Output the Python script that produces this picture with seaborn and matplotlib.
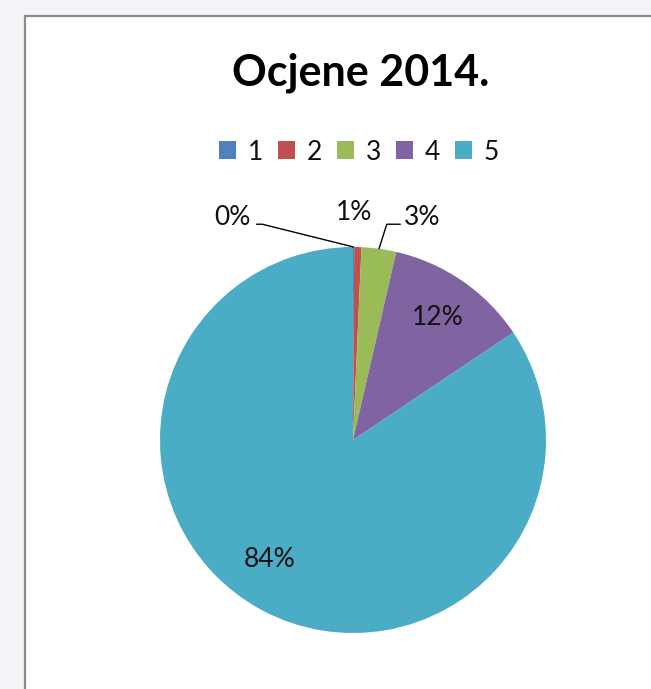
#!/usr/bin/env python3
"""
Pie chart of grades (Ocjene 2014.).
"""

import numpy as np
import matplotlib
matplotlib.use('Agg')
import matplotlib.pyplot as plt
import seaborn as sns
from matplotlib.patches import Rectangle

# Data
grades = ['1', '2', '3', '4', '5']
shares = [0.1, 0.6, 2.9, 12.0, 84.4]
pct_labels = ['0%', '1%', '3%', '12%', '84%']
colors = ['#4F81BD', '#C0504D', '#9BBB59', '#8064A2', '#4BACC6']
title = 'Ocjene 2014.'

W, H = 651, 689
DPI = 100

sns.set_theme(style='white')
plt.rcParams['font.family'] = ['Lato', 'DejaVu Sans']

fig = plt.figure(figsize=(W / DPI, H / DPI), dpi=DPI)
fig.patch.set_facecolor('#f4f5f9')

# white chart panel with grey border (runs off right/bottom edges)
panel = Rectangle((25 / W, -0.05), 1.1, (H - 16) / H + 0.05,
                  transform=fig.transFigure, facecolor='white',
                  edgecolor='#8c8c8c', linewidth=1.6, zorder=-10)
fig.patches.append(panel)

# pie axes: centre (353, 440), radius 193 px
cx, cy, r = 353, 440, 193
ax = fig.add_axes([(cx - r) / W, (H - cy - r) / H, 2 * r / W, 2 * r / H])
ax.set_facecolor('none')

wedges, _ = ax.pie(shares, colors=colors, startangle=90, counterclock=False,
                   radius=1, wedgeprops=dict(linewidth=0))
ax.set_xlim(-1, 1)
ax.set_ylim(-1, 1)
ax.set_aspect('equal')
ax.axis('off')

fs = 19

def wedge_point(w, rr):
    ang = np.deg2rad((w.theta1 + w.theta2) / 2)
    return rr * np.cos(ang), rr * np.sin(ang)

# inside labels for the two big slices
x, y = wedge_point(wedges[3], 0.77)
ax.text(x, y, pct_labels[3], ha='center', va='center', fontsize=fs, color='#111111')
ax.text(-0.43, -0.62, pct_labels[4], ha='center', va='center', fontsize=fs, color='#111111')

# outside labels for the thin slices
ax.text(-0.627, 1.155, pct_labels[0], ha='center', va='center', fontsize=fs, color='#111111')
ax.text(0.003, 1.178, pct_labels[1], ha='center', va='center', fontsize=fs, color='#111111')
ax.text(0.36, 1.155, pct_labels[2], ha='center', va='center', fontsize=fs, color='#111111')

# leader lines
px, py = wedge_point(wedges[0], 1.0)
ax.plot([-0.50, -0.47, px], [1.118, 1.118, py], color='black', lw=1, clip_on=False)
px, py = wedge_point(wedges[2], 1.0)
ax.plot([0.245, 0.175, px], [1.118, 1.118, py], color='black', lw=1, clip_on=False)

# title and legend
fig.text(361 / W, 1 - 73 / H, title, ha='center', va='center',
         fontsize=31, fontweight='bold', color='black')

leg = fig.legend(wedges, grades, loc='center', bbox_to_anchor=(359 / W, 1 - 152 / H),
                 ncol=5, frameon=False, fontsize=fs, handlelength=0.65,
                 handleheight=0.65, handletextpad=0.45, columnspacing=0.55)
for t in leg.get_texts():
    t.set_color('#111111')

fig.savefig('out.png', dpi=DPI, facecolor=fig.get_facecolor())
